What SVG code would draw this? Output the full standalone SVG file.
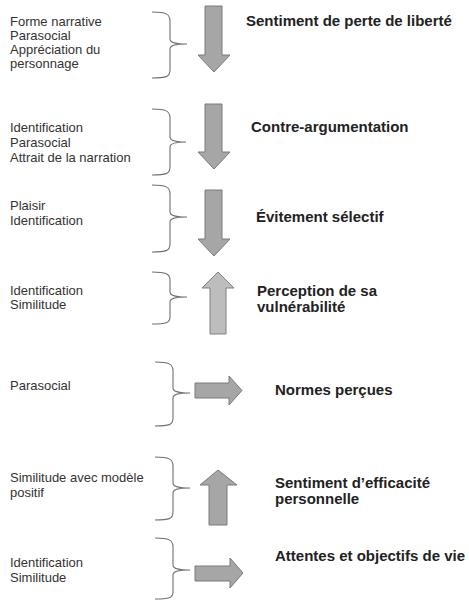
<svg xmlns="http://www.w3.org/2000/svg" width="469" height="601" viewBox="0 0 469 601">
<style>
.l{font-family:"Liberation Sans",Arial,sans-serif;font-size:13px;fill:#333}
.r{font-family:"Liberation Sans",Arial,sans-serif;font-size:15px;font-weight:bold;fill:#222}
.b{fill:none;stroke:#707070;stroke-width:1.1}
.ad{fill:#a6a6a6;stroke:#7a7a7a;stroke-width:1}
.au{fill:#bdbdbd;stroke:#808080;stroke-width:1}
</style>
<rect width="469" height="601" fill="#fff"/>
<g id="node1">
<text class="l" x="10" y="26">Forme narrative</text>
<text class="l" x="10" y="40">Parasocial</text>
<text class="l" x="10" y="54">Appréciation du</text>
<text class="l" x="10" y="68">personnage</text>
<text class="r" x="246" y="26">Sentiment de perte de liberté</text>
</g>
<g id="node2">
<text class="l" x="10" y="132">Identification</text>
<text class="l" x="10" y="147">Parasocial</text>
<text class="l" x="10" y="162">Attrait de la narration</text>
<text class="r" x="251" y="132">Contre-argumentation</text>
</g>
<g id="node3">
<text class="l" x="10" y="210">Plaisir</text>
<text class="l" x="10" y="225">Identification</text>
<text class="r" x="256" y="222">Évitement sélectif</text>
</g>
<g id="node4">
<text class="l" x="10" y="295">Identification</text>
<text class="l" x="10" y="309">Similitude</text>
<text class="r" x="257" y="296">Perception de sa</text>
<text class="r" x="257" y="312">vulnérabilité</text>
</g>
<g id="node5">
<text class="l" x="10" y="390">Parasocial</text>
<text class="r" x="275" y="395">Normes perçues</text>
</g>
<g id="node6">
<text class="l" x="10" y="482">Similitude avec modèle</text>
<text class="l" x="10" y="497">positif</text>
<text class="r" x="275" y="488">Sentiment d’efficacité</text>
<text class="r" x="275" y="504">personnelle</text>
</g>
<g id="node7">
<text class="l" x="10" y="567">Identification</text>
<text class="l" x="10" y="582">Similitude</text>
<text class="r" x="275" y="561">Attentes et objectifs de vie</text>
</g>
<g id="connectors">
<path class="b" d="M152,12 C166,12 170,14 170,21 L170,39 C170,43 176,44 187,44 C176,44 170,45 170,49 L170,70 C170,77 166,78 152,78"/>
<path class="b" d="M152,109 C166,109 170,111 170,118 L170,137 C170,141 176,142 186,142 C176,142 170,143 170,147 L170,167 C170,174 166,175 152,175"/>
<path class="b" d="M152,185 C166,185 170,187 170,194 L170,212 C170,216 176,217 187,217 C176,217 170,218 170,222 L170,244 C170,251 166,252 152,252"/>
<path class="b" d="M152,272 C166,272 170,274 170,280 L170,292 C170,296 176,297 187,297 C176,297 170,298 170,302 L170,317 C170,323 166,324 152,324"/>
<path class="b" d="M155,362 C169,362 173,364 173,371 L173,388 C173,392 179,393 190,393 C179,393 173,394 173,398 L173,418 C173,425 169,426 155,426"/>
<path class="b" d="M155,457 C169,457 173,459 173,466 L173,483 C173,487 179,488 190,488 C179,488 173,489 173,493 L173,512 C173,519 169,520 155,520"/>
<path class="b" d="M155,538 C169,538 173,540 173,547 L173,565 C173,569 179,570 190,570 C179,570 173,571 173,575 L173,592 C173,598 169,599 155,599"/>
<polygon class="ad" points="205,6 222,6 222,55 230,55 214,72 198,55 205,55"/>
<polygon class="ad" points="205,104 222,104 222,152 230,152 214,169 198,152 205,152"/>
<polygon class="ad" points="205,190 222,190 222,239 230,239 214,256 198,239 205,239"/>
<polygon class="au" points="210,334 226,334 226,288 234,288 218,272 202,288 210,288"/>
<polygon class="ad" points="195,383 229,383 229,376 242,390.5 229,405 229,398 195,398"/>
<polygon class="ad" points="209,525 227,525 227,485 237,485 218,470 200,485 209,485"/>
<polygon class="ad" points="195,566 230,566 230,558 243,573 230,588 230,581 195,581"/>
</g>
</svg>
